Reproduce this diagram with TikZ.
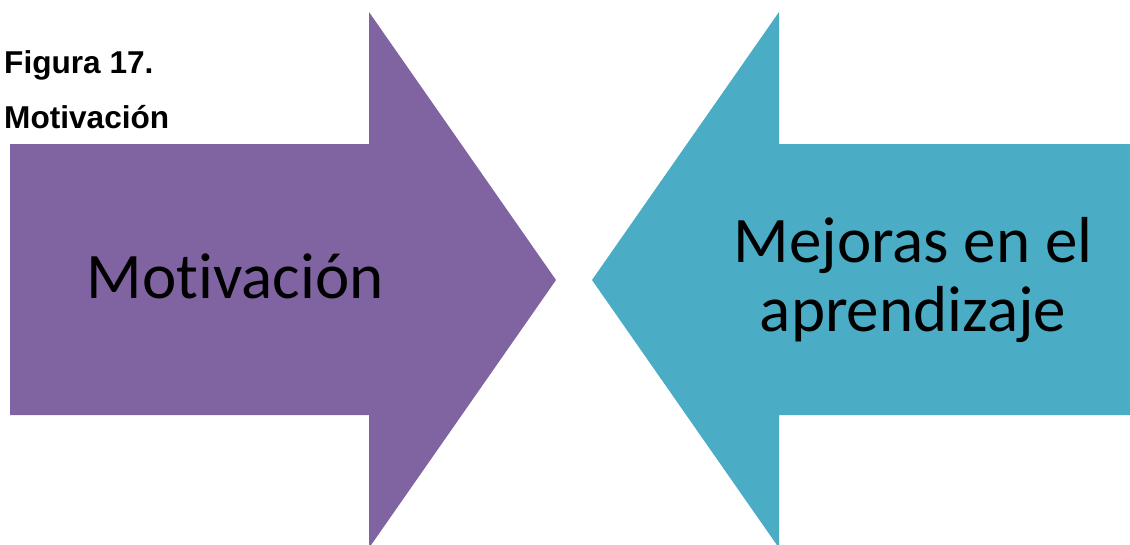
\documentclass[tikz,border=0pt]{standalone}
\usepackage{fontspec}
\setmainfont[Ligatures={NoCommon}]{Carlito}
\newfontfamily\arialfont{Liberation Sans}
\definecolor{arrowpurple}{HTML}{8064A2}
\definecolor{arrowblue}{HTML}{4BACC6}
\begin{document}
\begin{tikzpicture}[x=1pt,y=-1pt,
  captiontext/.style={inner sep=0pt, font=\arialfont\bfseries\fontsize{31.6}{36}\selectfont, anchor=base west},
  bigtext/.style={inner sep=0pt, font=\fontsize{65}{69}\selectfont, align=center, text=black}]
\useasboundingbox (0,0) rectangle (1130,544);
\clip (0,0) rectangle (1130,544);
\fill[arrowpurple] (10,144) -- (369,144) -- (369,12) -- (556,280) -- (369,548) -- (369,415) -- (10,415) -- cycle;
\fill[arrowblue] (1131,144) -- (779,144) -- (779,12) -- (592,280) -- (779,548) -- (779,415) -- (1131,415) -- cycle;
\node[captiontext] (fig) at (4,73) {Figura 17.};
\node[captiontext] (figtitle) at (4,128) {Motivación};
\node[bigtext, anchor=base] (motiv) at (235,298) {Motivación};
\node[bigtext, anchor=base] (mej1) at (913,262) {Mejoras en el};
\node[bigtext, anchor=base] (mej2) at (913,331) {aprendizaje};
\end{tikzpicture}
\end{document}
